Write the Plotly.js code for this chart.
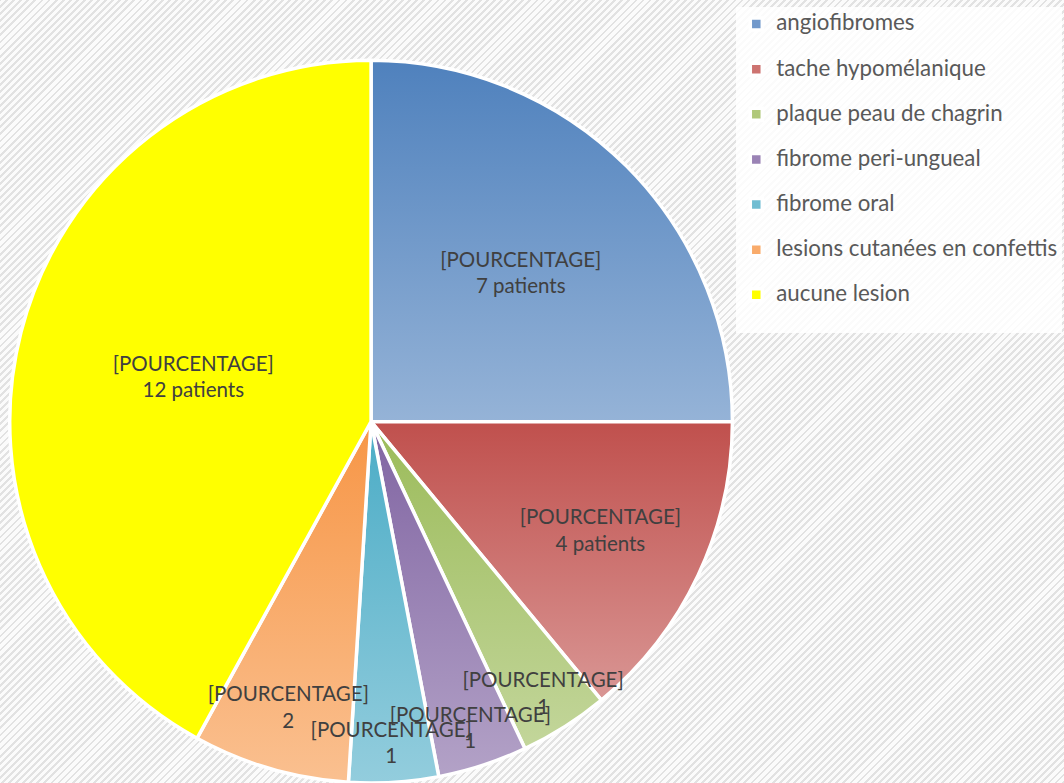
<!DOCTYPE html>
<html>
<head>
<meta charset="utf-8">
<script src="https://cdn.plot.ly/plotly-3.0.1.min.js"></script>
<style>
html,body{margin:0;padding:0;}
body{width:1064px;height:783px;overflow:hidden;
background-color:#f7f7f7;
background-image:repeating-linear-gradient(-45deg,#e2e2e2 0px,#e2e2e2 2px,#fbfbfb 2px,#fbfbfb 5px);}
#chart{width:1064px;height:783px;}
</style>
</head>
<body>
<div id="chart"></div>
<script>
var categories = ['angiofibromes','tache hypomélanique','plaque peau de chagrin','fibrome peri-ungueal','fibrome oral','lesions cutanées en confettis','aucune lesion'];
var pourcentages = [25,14,4,4,4,7,42];
var patients = [7,4,1,1,1,2,12];
var labelSuffix = ['7 patients','4 patients','1','1','1','2','12 patients'];
var topColors = ['#4F81BD','#C0504D','#9BBB59','#8064A2','#4BACC6','#F79646','#FFFF00'];
var bottomColors = ['#95B3D7','#D99694','#C3D69B','#B3A2C7','#93CDDD','#FAC090','#FFFF00'];
var midColors = ['#7299CB','#CD7370','#B0C87A','#9A83B5','#70BDD2','#F9AB6B','#FFFF00'];

var legendLabels = categories.map(function(c){return '<span style="font-size:22.3px">'+c+'</span><br> ';});

var trace = {
  type:'pie',
  labels: legendLabels,
  values: pourcentages,
  customdata: patients,
  text: labelSuffix.map(function(s){return '[POURCENTAGE]<br>'+s;}),
  textinfo:'text',
  hovertemplate:'%{label}: %{customdata} patients<extra></extra>',
  textposition:'inside',
  insidetextorientation:'horizontal',
  sort:false,
  direction:'clockwise',
  rotation:0,
  marker:{colors:midColors, line:{color:'#ffffff', width:3.5}},
  textfont:{family:'Lato, sans-serif', size:20.5, color:'#404040'},
  domain:{x:[0.0085,0.689], y:[0,0.923]}
};

var layout = {
  width:1064, height:783,
  margin:{l:0,r:0,t:0,b:0},
  paper_bgcolor:'rgba(0,0,0,0)',
  plot_bgcolor:'rgba(0,0,0,0)',
  showlegend:true,
  uniformtext:{mode:'show', minsize:20.5},
  legend:{x:0.692, y:0.991, xanchor:'left', yanchor:'top', valign:'top',
    bgcolor:'rgba(255,255,255,0.85)', font:{family:'Lato, sans-serif', size:16.2, color:'#595959'},
    itemwidth:30, traceorder:'normal'}
};

Plotly.newPlot('chart',[trace],layout,{displayModeBar:false}).then(function(gd){
  var svg = gd.querySelector('svg.main-svg');
  var ns='http://www.w3.org/2000/svg';
  var defs = document.createElementNS(ns,'defs');
  topColors.forEach(function(c,i){
    var g=document.createElementNS(ns,'linearGradient');
    g.setAttribute('id','sg'+i);g.setAttribute('x1','0');g.setAttribute('y1','0');g.setAttribute('x2','0');g.setAttribute('y2','1');
    var s1=document.createElementNS(ns,'stop');s1.setAttribute('offset','0');s1.setAttribute('stop-color',c);
    var s2=document.createElementNS(ns,'stop');s2.setAttribute('offset','1');s2.setAttribute('stop-color',bottomColors[i]);
    g.appendChild(s1);g.appendChild(s2);defs.appendChild(g);
  });
  svg.insertBefore(defs, svg.firstChild);
  var paths = gd.querySelectorAll('.pielayer .slice path.surface');
  paths.forEach(function(p,i){p.style.fill='url(#sg'+i+')';});
  var traceG = gd.querySelector('.pielayer .trace');
  if(traceG){
    var top = document.createElementNS(ns,'g');
    traceG.appendChild(top);
    gd.querySelectorAll('.pielayer .slice .slicetext').forEach(function(t){top.appendChild(t);});
  }
});
</script>
</body>
</html>
